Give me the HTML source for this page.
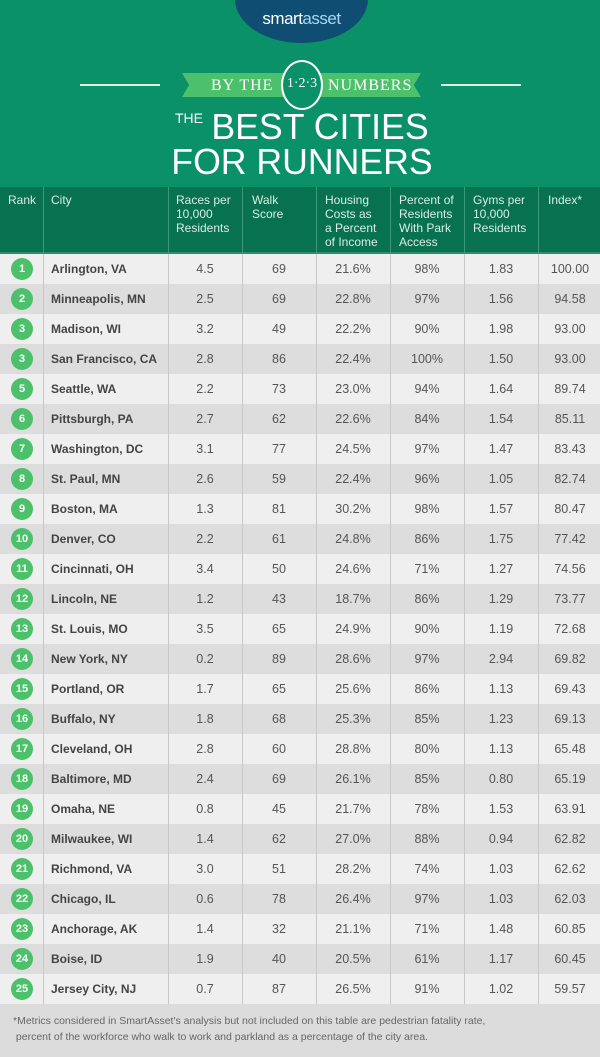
<!DOCTYPE html>
<html><head><meta charset="utf-8"><style>
*{margin:0;padding:0;box-sizing:border-box}
body{width:600px;height:1057px;position:relative;overflow:hidden;background:#0b9167;font-family:"Liberation Sans",sans-serif}
.top{position:absolute;left:0;top:0;width:600px;height:187px;background:#0b9167}
.logo{position:absolute;left:235px;top:-45px;width:133px;height:88px;border-radius:50%;background:#0f4d72}
.logo span{position:absolute;left:0;right:0;top:54px;text-align:center;color:#fff;font-size:17px;letter-spacing:-0.5px}
.logo b{color:#fff;font-weight:normal}
.logo i{font-style:normal;color:#a9d8f0}
.hl{position:absolute;top:84px;height:2px;width:80px;background:#d8efe3}
.ribbon{position:absolute;left:182px;top:73px;width:239px;height:24px;background:#4cc06a;clip-path:polygon(0 0,100% 0,97% 50%,100% 100%,0 100%,3% 50%)}
.rt{position:absolute;top:77px;color:#fff;font-family:"Liberation Serif",serif;font-size:16px;letter-spacing:1px}
.circ{position:absolute;left:281px;top:60px;width:42px;height:50px;border-radius:50%;background:#0b9167;border:2px solid #fff;color:#fff;text-align:center;font-family:"Liberation Serif",serif;font-size:14px;line-height:44px}
.t1{position:absolute;left:0;width:600px;text-align:center;color:#fff;font-size:36px;line-height:36px;transform:scaleX(0.99);transform-origin:300px 0}
.t0{position:absolute;left:175px;top:110px;color:#fff;font-size:14px}
.hdr{position:absolute;left:0;top:187px;width:600px;height:67px;background:#087250;border-bottom:2px solid #2a8f6c}
.h{position:absolute;top:6px;color:#d9ede4;font-size:12px;line-height:14px}
.vl{position:absolute;top:0;width:1px;height:67px;background:#3a9a78}
.row{position:absolute;left:0;width:600px;height:30px;font-size:12.5px;color:#555;line-height:30px}
.row.o{background:#efefef}.row.e{background:#dddddd}
.row div{position:absolute;top:0;text-align:center}
.row .r{left:11px;top:4px;width:22px;height:22px;border-radius:50%;background:#4cc06a;color:#fff;font-weight:bold;line-height:22px;font-size:11px}
.row .c{left:51px;text-align:left;font-weight:bold;color:#444;font-size:12px}
.row .a{left:168px;width:74px}.row .b{left:242px;width:74px}.row .d{left:316px;width:74px}.row .f{left:390px;width:74px}.row .g{left:464px;width:74px}.row .i{left:538px;width:64px}
.gl{position:absolute;top:254px;width:1px;height:750px;background:#c8c8c8}
.foot{position:absolute;left:0;top:1004px;width:600px;height:53px;background:#dcdcdc;color:#666;font-size:10.5px;line-height:16px;padding:9px 0 0 13px}
</style></head><body>
<div class="top"></div>
<div class="logo"><span><b>smart</b><i>asset</i></span></div>
<div class="hl" style="left:80px"></div><div class="hl" style="left:441px"></div>
<div class="ribbon"></div>
<div class="rt" style="left:211px">BY THE</div>
<div class="rt" style="left:328px">NUMBERS</div>
<div class="circ">1·2·3</div>
<div class="t0">THE</div>
<div class="t1" style="top:109px;left:20px">BEST CITIES</div>
<div class="t1" style="top:144px;left:2px">FOR RUNNERS</div>
<div class="hdr">
<div class="h" style="left:8px">Rank</div>
<div class="h" style="left:51px">City</div>
<div class="h" style="left:176px">Races per<br>10,000<br>Residents</div>
<div class="h" style="left:252px">Walk<br>Score</div>
<div class="h" style="left:325px">Housing<br>Costs as<br>a Percent<br>of Income</div>
<div class="h" style="left:399px">Percent of<br>Residents<br>With Park<br>Access</div>
<div class="h" style="left:473px">Gyms per<br>10,000<br>Residents</div>
<div class="h" style="left:548px">Index*</div>
<div class="vl" style="left:43px"></div><div class="vl" style="left:168px"></div><div class="vl" style="left:242px"></div><div class="vl" style="left:316px"></div><div class="vl" style="left:390px"></div><div class="vl" style="left:464px"></div><div class="vl" style="left:538px"></div>
</div>
<div class="row o" style="top:254px"><div class="r">1</div><div class="c">Arlington, VA</div><div class="a">4.5</div><div class="b">69</div><div class="d">21.6%</div><div class="f">98%</div><div class="g">1.83</div><div class="i">100.00</div></div>
<div class="row e" style="top:284px"><div class="r">2</div><div class="c">Minneapolis, MN</div><div class="a">2.5</div><div class="b">69</div><div class="d">22.8%</div><div class="f">97%</div><div class="g">1.56</div><div class="i">94.58</div></div>
<div class="row o" style="top:314px"><div class="r">3</div><div class="c">Madison, WI</div><div class="a">3.2</div><div class="b">49</div><div class="d">22.2%</div><div class="f">90%</div><div class="g">1.98</div><div class="i">93.00</div></div>
<div class="row e" style="top:344px"><div class="r">3</div><div class="c">San Francisco, CA</div><div class="a">2.8</div><div class="b">86</div><div class="d">22.4%</div><div class="f">100%</div><div class="g">1.50</div><div class="i">93.00</div></div>
<div class="row o" style="top:374px"><div class="r">5</div><div class="c">Seattle, WA</div><div class="a">2.2</div><div class="b">73</div><div class="d">23.0%</div><div class="f">94%</div><div class="g">1.64</div><div class="i">89.74</div></div>
<div class="row e" style="top:404px"><div class="r">6</div><div class="c">Pittsburgh, PA</div><div class="a">2.7</div><div class="b">62</div><div class="d">22.6%</div><div class="f">84%</div><div class="g">1.54</div><div class="i">85.11</div></div>
<div class="row o" style="top:434px"><div class="r">7</div><div class="c">Washington, DC</div><div class="a">3.1</div><div class="b">77</div><div class="d">24.5%</div><div class="f">97%</div><div class="g">1.47</div><div class="i">83.43</div></div>
<div class="row e" style="top:464px"><div class="r">8</div><div class="c">St. Paul, MN</div><div class="a">2.6</div><div class="b">59</div><div class="d">22.4%</div><div class="f">96%</div><div class="g">1.05</div><div class="i">82.74</div></div>
<div class="row o" style="top:494px"><div class="r">9</div><div class="c">Boston, MA</div><div class="a">1.3</div><div class="b">81</div><div class="d">30.2%</div><div class="f">98%</div><div class="g">1.57</div><div class="i">80.47</div></div>
<div class="row e" style="top:524px"><div class="r">10</div><div class="c">Denver, CO</div><div class="a">2.2</div><div class="b">61</div><div class="d">24.8%</div><div class="f">86%</div><div class="g">1.75</div><div class="i">77.42</div></div>
<div class="row o" style="top:554px"><div class="r">11</div><div class="c">Cincinnati, OH</div><div class="a">3.4</div><div class="b">50</div><div class="d">24.6%</div><div class="f">71%</div><div class="g">1.27</div><div class="i">74.56</div></div>
<div class="row e" style="top:584px"><div class="r">12</div><div class="c">Lincoln, NE</div><div class="a">1.2</div><div class="b">43</div><div class="d">18.7%</div><div class="f">86%</div><div class="g">1.29</div><div class="i">73.77</div></div>
<div class="row o" style="top:614px"><div class="r">13</div><div class="c">St. Louis, MO</div><div class="a">3.5</div><div class="b">65</div><div class="d">24.9%</div><div class="f">90%</div><div class="g">1.19</div><div class="i">72.68</div></div>
<div class="row e" style="top:644px"><div class="r">14</div><div class="c">New York, NY</div><div class="a">0.2</div><div class="b">89</div><div class="d">28.6%</div><div class="f">97%</div><div class="g">2.94</div><div class="i">69.82</div></div>
<div class="row o" style="top:674px"><div class="r">15</div><div class="c">Portland, OR</div><div class="a">1.7</div><div class="b">65</div><div class="d">25.6%</div><div class="f">86%</div><div class="g">1.13</div><div class="i">69.43</div></div>
<div class="row e" style="top:704px"><div class="r">16</div><div class="c">Buffalo, NY</div><div class="a">1.8</div><div class="b">68</div><div class="d">25.3%</div><div class="f">85%</div><div class="g">1.23</div><div class="i">69.13</div></div>
<div class="row o" style="top:734px"><div class="r">17</div><div class="c">Cleveland, OH</div><div class="a">2.8</div><div class="b">60</div><div class="d">28.8%</div><div class="f">80%</div><div class="g">1.13</div><div class="i">65.48</div></div>
<div class="row e" style="top:764px"><div class="r">18</div><div class="c">Baltimore, MD</div><div class="a">2.4</div><div class="b">69</div><div class="d">26.1%</div><div class="f">85%</div><div class="g">0.80</div><div class="i">65.19</div></div>
<div class="row o" style="top:794px"><div class="r">19</div><div class="c">Omaha, NE</div><div class="a">0.8</div><div class="b">45</div><div class="d">21.7%</div><div class="f">78%</div><div class="g">1.53</div><div class="i">63.91</div></div>
<div class="row e" style="top:824px"><div class="r">20</div><div class="c">Milwaukee, WI</div><div class="a">1.4</div><div class="b">62</div><div class="d">27.0%</div><div class="f">88%</div><div class="g">0.94</div><div class="i">62.82</div></div>
<div class="row o" style="top:854px"><div class="r">21</div><div class="c">Richmond, VA</div><div class="a">3.0</div><div class="b">51</div><div class="d">28.2%</div><div class="f">74%</div><div class="g">1.03</div><div class="i">62.62</div></div>
<div class="row e" style="top:884px"><div class="r">22</div><div class="c">Chicago, IL</div><div class="a">0.6</div><div class="b">78</div><div class="d">26.4%</div><div class="f">97%</div><div class="g">1.03</div><div class="i">62.03</div></div>
<div class="row o" style="top:914px"><div class="r">23</div><div class="c">Anchorage, AK</div><div class="a">1.4</div><div class="b">32</div><div class="d">21.1%</div><div class="f">71%</div><div class="g">1.48</div><div class="i">60.85</div></div>
<div class="row e" style="top:944px"><div class="r">24</div><div class="c">Boise, ID</div><div class="a">1.9</div><div class="b">40</div><div class="d">20.5%</div><div class="f">61%</div><div class="g">1.17</div><div class="i">60.45</div></div>
<div class="row o" style="top:974px"><div class="r">25</div><div class="c">Jersey City, NJ</div><div class="a">0.7</div><div class="b">87</div><div class="d">26.5%</div><div class="f">91%</div><div class="g">1.02</div><div class="i">59.57</div></div>
<div class="gl" style="left:43px"></div><div class="gl" style="left:168px"></div><div class="gl" style="left:242px"></div><div class="gl" style="left:316px"></div><div class="gl" style="left:390px"></div><div class="gl" style="left:464px"></div><div class="gl" style="left:538px"></div>
<div class="foot">*Metrics considered in SmartAsset's analysis but not included on this table are pedestrian fatality rate,<br>&nbsp;percent of the workforce who walk to work and parkland as a percentage of the city area.</div>
</body></html>
